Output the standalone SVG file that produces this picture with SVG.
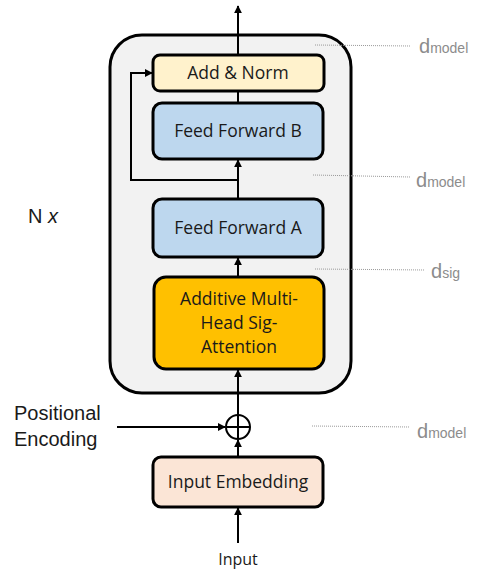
<svg xmlns="http://www.w3.org/2000/svg" width="481" height="572" viewBox="0 0 481 572">
<style>
  .box { stroke: #000; stroke-width: 3; }
  .lbl { font-family: "Open Sans", "Liberation Sans", sans-serif; font-size: 17.5px; fill: #1a1a1a; text-anchor: middle; }
  .side { font-family: "Liberation Sans", Arial, sans-serif; font-size: 20px; fill: #1a1a1a; }
  .dim { font-family: "Liberation Sans", Arial, sans-serif; fill: #8c8c8c; }
  .wire { stroke: #000; stroke-width: 2; fill: none; }
  .dot { stroke: #999; stroke-width: 1; stroke-dasharray: 1 1; fill: none; }
</style>
<defs>
  <marker id="ah" viewBox="0 0 10 10" refX="9" refY="5" markerWidth="4" markerHeight="4" orient="auto">
    <path d="M0,0 L10,5 L0,10 z" fill="#000"/>
  </marker>
</defs>
<rect width="481" height="572" fill="#fff"/>

<!-- repeated block -->
<g id="block">
  <rect x="110" y="35" width="241" height="358" rx="32" fill="#f2f2f2" stroke="#000" stroke-width="3"/>
</g>

<g id="connectors">
  <line class="wire" x1="238" y1="55" x2="238" y2="6" marker-end="url(#ah)"/>
  <line class="wire" x1="238" y1="103" x2="238" y2="91"/>
  <line class="wire" x1="238" y1="199" x2="238" y2="160" marker-end="url(#ah)"/>
  <polyline class="wire" points="238,180 131,180 131,73 152,73" marker-end="url(#ah)"/>
  <line class="wire" x1="238" y1="277" x2="238" y2="258" marker-end="url(#ah)"/>
  <line class="wire" x1="238" y1="415" x2="238" y2="370" marker-end="url(#ah)"/>
  <line class="wire" x1="238" y1="457" x2="238" y2="440" marker-end="url(#ah)"/>
  <line class="wire" x1="117" y1="427" x2="225" y2="427" marker-end="url(#ah)"/>
  <line class="wire" x1="238" y1="543" x2="238" y2="508" marker-end="url(#ah)"/>
  <line class="dot" x1="315" y1="45" x2="410" y2="46"/>
  <line class="dot" x1="313" y1="175" x2="410" y2="177"/>
  <line class="dot" x1="315" y1="269" x2="425" y2="270"/>
  <line class="dot" x1="312" y1="426" x2="410" y2="427"/>
</g>

<g id="add-norm">
  <rect class="box" x="153" y="55" width="171" height="36" rx="7" fill="#fff2cc"/>
  <text class="lbl" x="238" y="79">Add &amp; Norm</text>
</g>
<g id="feed-forward-b">
  <rect class="box" x="153" y="103" width="170" height="56" rx="9" fill="#bdd7ee"/>
  <text class="lbl" x="238" y="137">Feed Forward B</text>
</g>
<g id="feed-forward-a">
  <rect class="box" x="153" y="199" width="170" height="58" rx="9" fill="#bdd7ee"/>
  <text class="lbl" x="238" y="234">Feed Forward A</text>
</g>
<g id="sig-attention">
  <rect class="box" x="154" y="277" width="170" height="92" rx="12" fill="#ffc000"/>
  <text class="lbl" x="239" y="305">Additive Multi-</text>
  <text class="lbl" x="239" y="329">Head Sig-</text>
  <text class="lbl" x="239" y="353">Attention</text>
</g>
<g id="sum">
  <circle cx="238" cy="427" r="12" fill="#fff" stroke="#000" stroke-width="2"/>
  <line class="wire" x1="226" y1="427" x2="250" y2="427"/>
  <line class="wire" x1="238" y1="415" x2="238" y2="439"/>
</g>
<g id="input-embedding">
  <rect class="box" x="153" y="457" width="170" height="50" rx="8" fill="#fbe5d6"/>
  <text class="lbl" x="238" y="488">Input Embedding</text>
</g>

<g id="labels">
  <text class="side" x="28" y="223">N <tspan font-style="italic">x</tspan></text>
  <text class="side" x="14" y="420">Positional</text>
  <text class="side" x="14" y="446">Encoding</text>
  <text class="lbl" x="238" y="565" style="font-size:16px">Input</text>
  <text class="dim" x="419" y="53" font-size="20">d<tspan font-size="14">model</tspan></text>
  <text class="dim" x="416" y="187" font-size="20">d<tspan font-size="14">model</tspan></text>
  <text class="dim" x="431" y="278" font-size="20">d<tspan font-size="14">sig</tspan></text>
  <text class="dim" x="417" y="438" font-size="20">d<tspan font-size="14">model</tspan></text>
</g>
</svg>
